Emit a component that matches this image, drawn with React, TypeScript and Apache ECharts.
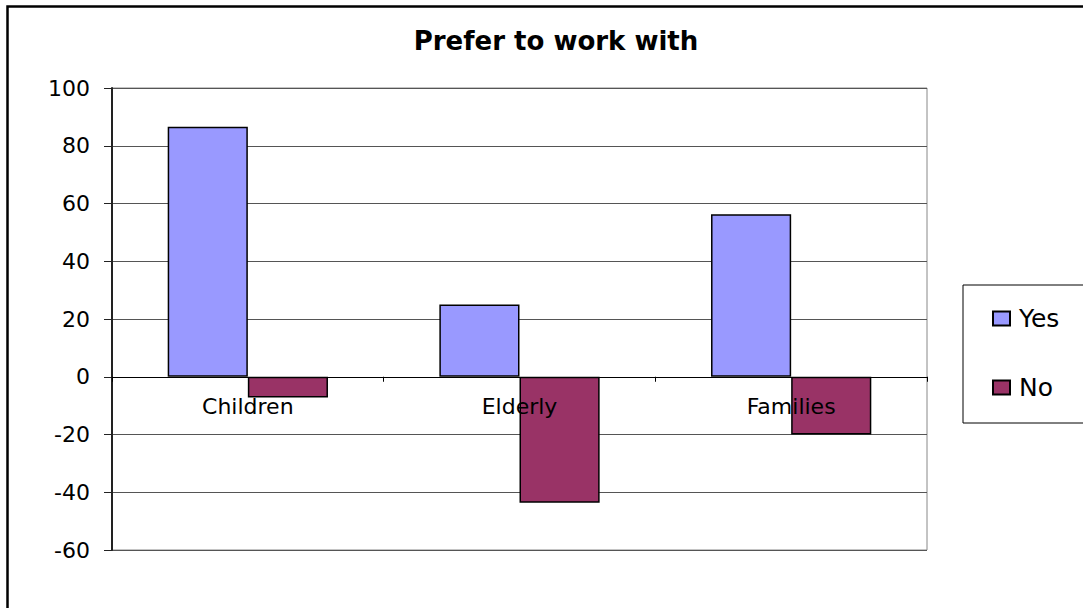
import React, { useEffect, useRef } from "react";
import * as echarts from "echarts";

const categories = ["Children", "Elderly", "Families"];
const yesValues = [86.6, 25, 56.3];
const noValues = [-7.2, -43.6, -20];
const seriesNames = ["Yes", "No"];
const titleText = "Prefer to work with";

const FONT = "DejaVu Sans";

export default function App() {
  const ref = useRef<HTMLDivElement>(null);
  useEffect(() => {
    if (!ref.current) return;
    const chart = echarts.init(ref.current, undefined, { renderer: "svg" });
    chart.setOption({
      animation: false,
      backgroundColor: "#ffffff",
      title: {
        text: titleText,
        left: 556,
        top: 28,
        padding: 0,
        textAlign: "center",
        textStyle: { fontFamily: FONT, fontSize: 26, fontWeight: "bold", color: "#000" },
      },
      graphic: [
        {
          type: "rect",
          shape: { x: 7.5, y: 6.5, width: 1200, height: 700 },
          style: { fill: "none", stroke: "#000", lineWidth: 2.5 },
          silent: true,
          z: 100,
        },
      ],
      legend: {
        orient: "vertical",
        left: 963,
        top: 285,
        padding: [21, 60, 23, 29],
        itemGap: 44,
        itemWidth: 17,
        itemHeight: 14,
        borderColor: "#000",
        borderWidth: 1,
        icon: "rect",
        data: seriesNames,
        textStyle: { fontFamily: FONT, fontSize: 25, color: "#000", padding: [0, 0, 0, 4] },
      },
      grid: {
        left: 112,
        right: 156,
        top: 88,
        bottom: 58,
        show: true,
        borderColor: "#888",
        borderWidth: 1,
        containLabel: false,
      },
      xAxis: {
        type: "category",
        data: categories,
        z: 5,
        axisLine: { onZero: true, lineStyle: { color: "#000", width: 1 } },
        axisTick: { show: true, length: 5, lineStyle: { color: "#000" } },
        axisLabel: { show: false },
        splitLine: { show: false },
      },
      yAxis: {
        type: "value",
        min: -60,
        max: 100,
        interval: 20,
        axisLine: { show: true, lineStyle: { color: "#222", width: 2 } },
        axisTick: { show: true, length: 8, lineStyle: { color: "#222" } },
        axisLabel: { fontFamily: FONT, fontSize: 22, color: "#000", margin: 22 },
        splitLine: { show: true, lineStyle: { color: "#555", width: 1 } },
      },
      series: [
        {
          name: seriesNames[0],
          type: "bar",
          data: yesValues,
          barGap: "0%",
          barCategoryGap: "41%",
          itemStyle: { color: "#9999FF", borderColor: "#000", borderWidth: 1.5 },
        },
        {
          name: seriesNames[1],
          type: "bar",
          data: noValues,
          barGap: "0%",
          barCategoryGap: "41%",
          itemStyle: { color: "#993366", borderColor: "#000", borderWidth: 1.5 },
        },
        {
          name: "categoryLabels",
          type: "scatter",
          z: 10,
          silent: true,
          symbolSize: 0.001,
          itemStyle: { color: "#000", opacity: 1 },
          data: categories.map((c) => ({ name: c, value: [c, 0] })),
          label: {
            show: true,
            position: "bottom",
            distance: 19,
            formatter: (p: any) => p.name,
            fontFamily: FONT,
            fontSize: 22,
            color: "#000",
            opacity: 1,
            textBorderWidth: 0,
          },
        },
      ],
    });
    return () => chart.dispose();
  }, []);
  return (
    <div
      ref={ref}
      style={{ position: "fixed", left: 0, top: 0, width: 1083, height: 608, background: "#fff" }}
    />
  );
}
